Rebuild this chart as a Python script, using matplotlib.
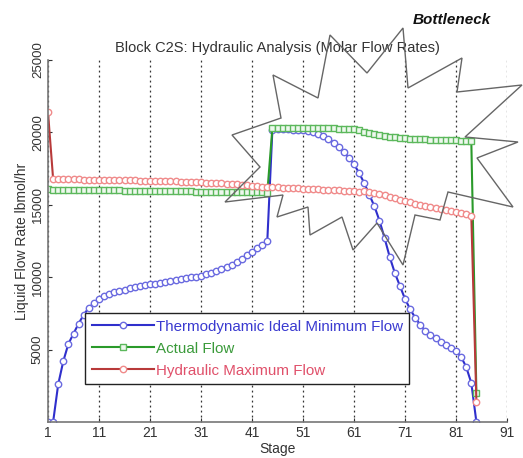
import matplotlib.pyplot as plt
from matplotlib.patches import Polygon
import numpy as np

plt.rcParams['font.family'] = ['Liberation Sans', 'DejaVu Sans']

stages = list(range(1, 86))

ideal_min = [0, 0, 2600, 4200, 5400, 6100, 6800, 7400, 7900, 8200,
             8500, 8700, 8850, 8950, 9050, 9150, 9250, 9300, 9380, 9450,
             9500, 9560, 9620, 9680, 9740, 9800, 9860, 9920, 9980, 10040,
             10100, 10200, 10300, 10420, 10550, 10700, 10850, 11050, 11250, 11500,
             11750, 12000, 12250, 12500, 20200, 20250, 20250, 20250, 20200, 20200,
             20150, 20100, 20000, 19900, 19750, 19550, 19300, 19000, 18650, 18250,
             17800, 17200, 16500, 15700, 14900, 13900, 12700, 11400, 10300, 9400,
             8500, 7800, 7200, 6700, 6300, 6000, 5800, 5500, 5300, 5100,
             4900, 4500, 3800, 2700, 0]

actual = [16100, 16050, 16050, 16040, 16040, 16030, 16030, 16020, 16020, 16010,
          16010, 16000, 16000, 15990, 15990, 15980, 15980, 15970, 15970, 15960,
          15960, 15950, 15950, 15940, 15940, 15930, 15930, 15920, 15920, 15910,
          15910, 15900, 15900, 15890, 15890, 15880, 15880, 15870, 15870, 15860,
          15860, 15850, 15850, 15840, 20300, 20300, 20310, 20310, 20300, 20300,
          20300, 20290, 20290, 20280, 20280, 20270, 20270, 20260, 20250, 20250,
          20240, 20150, 20060, 19980, 19900, 19830, 19760, 19700, 19650, 19610,
          19580, 19560, 19540, 19530, 19510, 19500, 19490, 19480, 19470, 19460,
          19450, 19440, 19430, 19420, 2000]

hydraulic_max = [21400, 16800, 16780, 16770, 16760, 16760, 16750, 16740, 16740, 16730,
                 16720, 16720, 16710, 16700, 16700, 16690, 16680, 16680, 16670, 16660,
                 16660, 16650, 16640, 16630, 16620, 16610, 16600, 16590, 16580, 16570,
                 16560, 16540, 16520, 16500, 16480, 16460, 16440, 16410, 16380, 16350,
                 16320, 16290, 16260, 16240, 16220, 16200, 16180, 16160, 16150, 16130,
                 16120, 16100, 16080, 16060, 16050, 16030, 16010, 16000, 15980, 15960,
                 15930, 15900, 15950, 15900, 15820, 15740, 15650, 15550, 15450, 15350,
                 15250, 15160, 15080, 15000, 14920, 14850, 14780, 14710, 14640, 14570,
                 14500, 14420, 14340, 14250, 1400]

xticks = [1, 11, 21, 31, 41, 51, 61, 71, 81, 91]
yticks = [5000, 10000, 15000, 20000, 25000]

# starburst outline, in image pixels
burst = [(403, 28), (408, 88), (462, 58), (457, 92), (522, 85), (465, 137),
         (518, 142), (477, 158), (513, 207), (448, 192), (440, 220), (415, 215),
         (403, 265), (377, 223), (353, 250), (342, 217), (310, 235), (308, 207),
         (277, 217), (283, 195), (225, 202), (260, 167), (232, 135), (281, 118),
         (273, 75), (318, 98), (330, 35), (367, 73)]

W, H = 523, 458
fig = plt.figure(figsize=(W / 100, H / 100), dpi=100)
ax = fig.add_axes([48 / W, 1 - 422 / H, (507 - 48) / W, (422 - 60) / H])

ax.plot(stages, ideal_min, color='#2f2fcc', linewidth=1.5, marker='o', markersize=4.6,
        markerfacecolor='white', markeredgecolor='#6a6ae0', markeredgewidth=1.0,
        label='Thermodynamic Ideal Minimum Flow')
ax.plot(stages, actual, color='#2a9a2a', linewidth=1.5, marker='s', markersize=4.4,
        markerfacecolor='#eef8ee', markeredgecolor='#5cb85c', markeredgewidth=1.0,
        label='Actual Flow')
ax.plot(stages, hydraulic_max, color='#b83a3a', linewidth=1.5, marker='o', markersize=4.6,
        markerfacecolor='white', markeredgecolor='#f08a8a', markeredgewidth=1.0,
        label='Hydraulic Maximum Flow')

ax.set_xlim(1, 91)
ax.set_ylim(0, 25000)
ax.set_xticks(xticks)
ax.set_yticks(yticks)
ax.tick_params(axis='y', labelrotation=90, labelsize=9.5, direction='in', length=3, pad=3,
               colors='#333333')
ax.tick_params(axis='x', labelsize=10, direction='in', length=3, pad=3, colors='#333333')
for lbl in ax.get_yticklabels():
    lbl.set_va('center')
ax.grid(axis='x', color='#333333', linestyle=(0, (1.5, 2.5)), linewidth=0.9)
for s in ['top', 'right']:
    ax.spines[s].set_visible(False)
for s in ['left', 'bottom']:
    ax.spines[s].set_color('#777777')
    ax.spines[s].set_linewidth(1.2)

ax.set_title('Block C2S: Hydraulic Analysis (Molar Flow Rates)', fontsize=10.5,
             color='#333333', pad=6)
ax.set_xlabel('Stage', fontsize=10, color='#333333', labelpad=1)
ax.set_ylabel('Liquid Flow Rate lbmol/hr', fontsize=10, color='#333333', labelpad=2)

leg = ax.legend(loc='upper left', bbox_to_anchor=(0.0806, 0.301), borderaxespad=0,
                fontsize=10.9, handlelength=4.1, handletextpad=0.15, borderpad=0.43,
                labelspacing=0.53, fancybox=False, framealpha=1, edgecolor='#222222')
leg.get_frame().set_linewidth(1.0)
for txt, c in zip(leg.get_texts(), ['#3a3ad0', '#3a9a3a', '#e0506a']):
    txt.set_color(c)

poly = Polygon([(x / W, 1 - y / H) for x, y in burst], closed=True, fill=False,
               edgecolor='#666666', linewidth=1.0, transform=fig.transFigure, zorder=5)
fig.add_artist(poly)
fig.text(452 / W, 1 - 20 / H, 'Bottleneck', fontsize=11, fontweight='bold',
         fontstyle='italic', ha='center', va='center', color='#111111')

fig.savefig('out.png', dpi=100)
